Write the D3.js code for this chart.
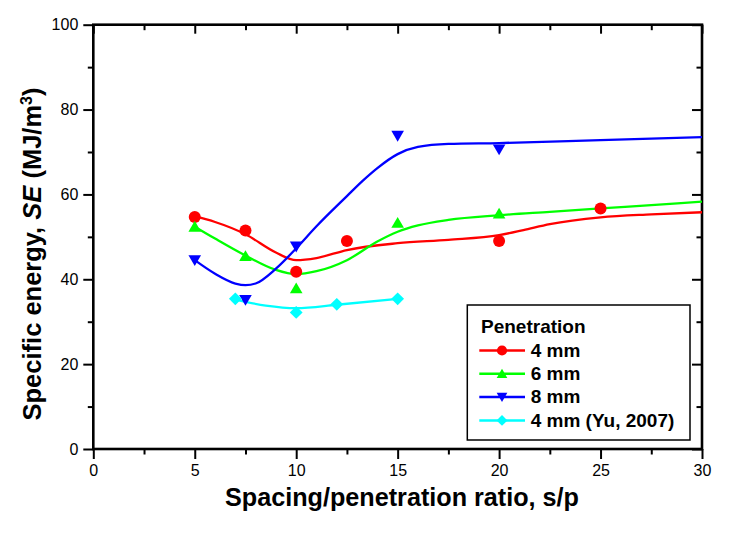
<!DOCTYPE html>
<html>
<head>
<meta charset="utf-8">
<script src="https://cdn.jsdelivr.net/npm/d3@7"></script>
<style>
  html, body { margin: 0; padding: 0; background: #fff; }
  svg { display: block; font-family: "Liberation Sans", Arial, sans-serif; }
</style>
</head>
<body>
<svg id="chart" width="735" height="542"></svg>
<script>
// ---------- data ----------
const xMajorTicks = [0, 5, 10, 15, 20, 25, 30];
const xMinorTicks = [2.5, 7.5, 12.5, 17.5, 22.5, 27.5];
const yMajorTicks = [0, 20, 40, 60, 80, 100];
const yMinorTicks = [10, 30, 50, 70, 90];

const seriesNames = ["4 mm", "6 mm", "8 mm", "4 mm (Yu, 2007)"];
const seriesColors = ["#ff0000", "#00ff00", "#0000ff", "#00ffff"];
const seriesSymbols = ["circle", "triangleUp", "triangleDown", "diamond"];

// measured points
const p4X = [5, 7.5, 10, 12.5, 20, 25];
const p4Y = [54.7, 51.5, 41.8, 49.0, 49.0, 56.7];
const p6X = [5, 7.5, 10, 15, 20];
const p6Y = [52.4, 45.5, 37.9, 53.3, 55.5];
const p8X = [5, 7.5, 10, 15, 20];
const p8Y = [44.5, 35.1, 47.7, 73.8, 70.6];
const yuX = [7, 10, 12, 15];
const yuY = [35.4, 32.2, 34.1, 35.4];

// fitted curves
const fit4X = [5, 6, 7.5, 9, 10, 11, 12.5, 15, 17.5, 20, 21.2, 22.5, 25, 27.5, 30];
const fit4Y = [54.8, 53.5, 50.6, 46.3, 44.5, 45.0, 46.9, 48.5, 49.3, 50.4, 51.6, 53.0, 54.6, 55.3, 55.8];
const fit6X = [5, 6, 7.5, 9, 10, 11, 12.5, 14, 15, 16, 17.5, 20, 22.5, 25, 27.5, 30];
const fit6Y = [52.4, 49.6, 45.6, 42.2, 41.2, 41.9, 44.5, 48.9, 51.2, 52.7, 54.0, 55.1, 55.9, 56.7, 57.5, 58.3];
const fit8X = [5, 6, 7, 7.5, 8, 9, 10, 11, 12.5, 13.3, 14, 15, 16, 17.5, 20, 25, 30];
const fit8Y = [44.5, 41.3, 39.0, 38.6, 39.0, 42.5, 47.3, 52.5, 59.6, 63.3, 66.2, 69.5, 71.2, 71.9, 72.1, 72.8, 73.5];
const fitYuX = [7, 8.5, 10, 12, 15];
const fitYuY = [35.2, 33.8, 33.2, 34.0, 35.4];

const legendTitle = "Penetration";
const xTitle = "Spacing/penetration ratio, s/p";

// ---------- layout ----------
const svg = d3.select("#chart");
const L = 93.3, R = 702, T = 24.7, B = 449;
const x = d3.scaleLinear().domain([0, 30]).range([L, R]);
const y = d3.scaleLinear().domain([0, 100]).range([B, T]);

const zip = (xs, ys) => xs.map((v, i) => [v, ys[i]]);
const pts = [zip(p4X, p4Y), zip(p6X, p6Y), zip(p8X, p8Y), zip(yuX, yuY)];
const fits = [zip(fit4X, fit4Y), zip(fit6X, fit6Y), zip(fit8X, fit8Y), zip(fitYuX, fitYuY)];

function symbolPath(type, s) {
  if (type === "circle") {
    const r = 6 * s;
    return `M${-r},0A${r},${r} 0 1,0 ${r},0A${r},${r} 0 1,0 ${-r},0Z`;
  }
  if (type === "triangleUp") {
    return `M0,${-5.8 * s}L${6.3 * s},${5 * s}L${-6.3 * s},${5 * s}Z`;
  }
  if (type === "triangleDown") {
    return `M0,${5.8 * s}L${6.3 * s},${-5 * s}L${-6.3 * s},${-5 * s}Z`;
  }
  const d = 6.4 * s;
  return `M0,${-d}L${d},0L0,${d}L${-d},0Z`;
}

// ---------- axes ----------
function styleAxis(g) {
  g.select(".domain").remove();
  g.selectAll(".tick line").attr("stroke", "#000").attr("stroke-width", 2);
  g.selectAll(".tick text").attr("fill", "#000").style("font-size", "16px")
    .style("font-family", "'Liberation Sans', Arial, sans-serif");
}

svg.append("g").attr("transform", `translate(0,${B})`)
  .call(d3.axisBottom(x).tickValues(xMajorTicks).tickSize(10).tickPadding(5.5).tickFormat(d3.format("d")))
  .call(styleAxis);
svg.append("g").attr("transform", `translate(0,${B})`)
  .call(d3.axisBottom(x).tickValues(xMinorTicks).tickSize(5.5).tickFormat(""))
  .call(styleAxis);
svg.append("g").attr("transform", `translate(0,${T})`)
  .call(d3.axisTop(x).tickValues(xMajorTicks).tickSize(-9).tickFormat(""))
  .call(styleAxis);
svg.append("g").attr("transform", `translate(0,${T})`)
  .call(d3.axisTop(x).tickValues(xMinorTicks).tickSize(-5.5).tickFormat(""))
  .call(styleAxis);

svg.append("g").attr("transform", `translate(${L},0)`)
  .call(d3.axisLeft(y).tickValues(yMajorTicks).tickSize(10).tickPadding(5).tickFormat(d3.format("d")))
  .call(styleAxis);
svg.append("g").attr("transform", `translate(${L},0)`)
  .call(d3.axisLeft(y).tickValues(yMinorTicks).tickSize(5.5).tickFormat(""))
  .call(styleAxis);
svg.append("g").attr("transform", `translate(${R},0)`)
  .call(d3.axisRight(y).tickValues(yMajorTicks).tickSize(-10).tickFormat(""))
  .call(styleAxis);
svg.append("g").attr("transform", `translate(${R},0)`)
  .call(d3.axisRight(y).tickValues(yMinorTicks).tickSize(-5.5).tickFormat(""))
  .call(styleAxis);

// frame
svg.append("rect").attr("x", L).attr("y", T).attr("width", R - L).attr("height", B - T)
  .attr("fill", "none").attr("stroke", "#000").attr("stroke-width", 2.6);

// ---------- curves & points ----------
const line = d3.line().x(d => x(d[0])).y(d => y(d[1])).curve(d3.curveMonotoneX);

fits.forEach((f, i) => {
  svg.append("path").datum(f).attr("d", line)
    .attr("fill", "none").attr("stroke", seriesColors[i]).attr("stroke-width", 2.3);
});
pts.forEach((p, i) => {
  svg.append("g").selectAll("path").data(p).join("path")
    .attr("transform", d => `translate(${x(d[0])},${y(d[1])})`)
    .attr("d", symbolPath(seriesSymbols[i], 1))
    .attr("fill", seriesColors[i]);
});

// ---------- axis titles ----------
svg.append("text").attr("x", 402).attr("y", 506)
  .attr("text-anchor", "middle").style("font-size", "26px").style("font-weight", "bold")
  .attr("textLength", 354).attr("lengthAdjust", "spacingAndGlyphs")
  .text(xTitle);

const yt = svg.append("text").attr("transform", "translate(41,254) rotate(-90)")
  .attr("text-anchor", "middle").style("font-size", "25.5px").style("font-weight", "bold");
yt.append("tspan").text("Specific energy, ");
yt.append("tspan").style("font-style", "italic").text("SE");
yt.append("tspan").text(" (MJ/m");
yt.append("tspan").attr("dy", -9).style("font-size", "16px").text("3");
yt.append("tspan").attr("dy", 9).text(")");

// ---------- legend ----------
const lg = svg.append("g");
lg.append("rect").attr("x", 467.3).attr("y", 305).attr("width", 222.7).attr("height", 135)
  .attr("fill", "#fff").attr("stroke", "#000").attr("stroke-width", 1.5);
lg.append("text").attr("x", 481).attr("y", 333).style("font-size", "19px").style("font-weight", "bold")
  .text(legendTitle);
seriesNames.forEach((name, i) => {
  const ry = 350.5 + i * 23.3;
  lg.append("line").attr("x1", 479.3).attr("x2", 525).attr("y1", ry).attr("y2", ry)
    .attr("stroke", seriesColors[i]).attr("stroke-width", 2.5);
  lg.append("path").attr("transform", `translate(502,${ry})`)
    .attr("d", symbolPath(seriesSymbols[i], 0.85)).attr("fill", seriesColors[i]);
  lg.append("text").attr("x", 530.7).attr("y", ry + 6.3)
    .style("font-size", "19px").style("font-weight", "bold").text(name);
});
</script>
</body>
</html>
